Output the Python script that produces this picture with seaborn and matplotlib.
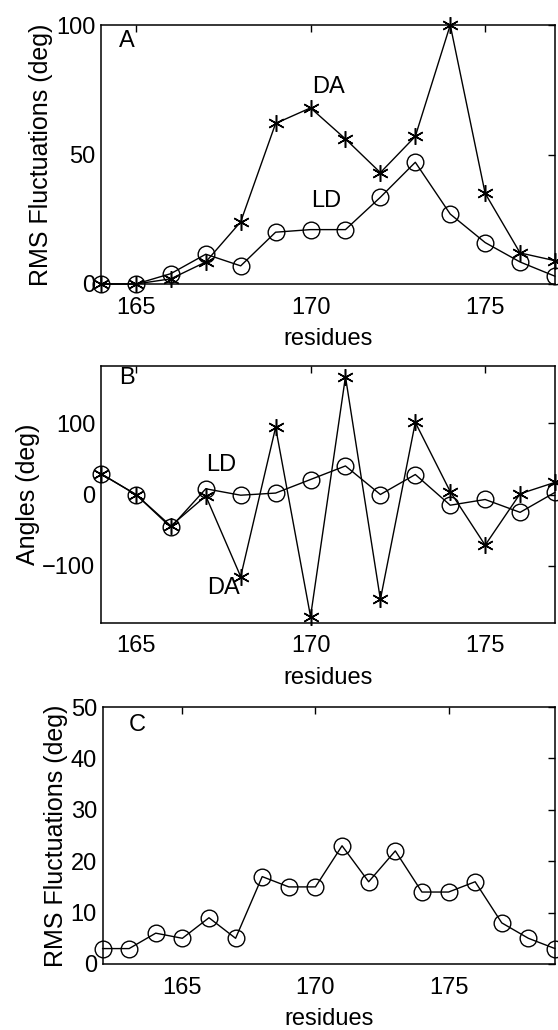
import matplotlib
matplotlib.use("Agg")
import matplotlib.pyplot as plt
import seaborn as sns
import numpy as np

# ---- data ----
res_ab = [164, 165, 166, 167, 168, 169, 170, 171, 172, 173, 174, 175, 176, 177]
rms_da = [0, 0, 2, 8.5, 24, 62, 68, 56, 43, 57, 100, 35, 12, 9]
rms_ld = [0, 0, 4, 11.5, 7, 20, 21, 21, 33.5, 47, 27, 16, 8.5, 3]
ang_da = [29, 0, -44, -2, -115, 94, -171, 165, -147, 101, 4, -71, 1, 17]
ang_ld = [29, 0, -46, 8, -1, 2, 21, 40, 0, 28, -15, -7, -25, 3]
res_c = [162, 163, 164, 165, 166, 167, 168, 169, 170, 171, 172, 173, 174, 175, 176, 177, 178, 179]
rms_c = [3, 3, 6, 5, 9, 5, 17, 15, 15, 23, 16, 22, 14, 14, 16, 8, 5, 3]
xticks = [165, 170, 175]
yticks_a = [0, 50, 100]
yticks_b = [-100, 0, 100]
yticks_c = [0, 10, 20, 30, 40, 50]

sns.set_style("white")
plt.rcParams['font.family'] = ['Liberation Sans', 'DejaVu Sans']
plt.rcParams['text.color'] = 'black'
plt.rcParams['axes.labelcolor'] = 'black'
plt.rcParams['xtick.color'] = 'black'
plt.rcParams['ytick.color'] = 'black'
FS = 17

fig = plt.figure(figsize=(5.58, 10.30), dpi=100)
W = 558.0
H = 1030.0
def box(l, t, r, b):
    return [l / W, 1 - b / H, (r - l) / W, (b - t) / H]

axA = fig.add_axes(box(101, 25, 555, 284))
axB = fig.add_axes(box(101, 366, 555, 623))
axC = fig.add_axes(box(102.5, 707, 555, 964))

star = (6, 2, 0)
lw = 1.0

def asterisk(ax, x, y):
    sns.lineplot(x=x, y=y, ax=ax, color='black', linewidth=lw, marker=star,
                 markersize=12, markeredgewidth=1.1, markeredgecolor='black',
                 clip_on=False, sort=False)

def circles(ax, x, y):
    sns.lineplot(x=x, y=y, ax=ax, color='black', linewidth=lw, marker='o',
                 markersize=12, markeredgewidth=1.0, markerfacecolor='none',
                 markeredgecolor='black', clip_on=False, sort=False)

# Panel A
asterisk(axA, res_ab, rms_da)
circles(axA, res_ab, rms_ld)
axA.set_xlim(164, 177)
axA.set_ylim(0, 100)
axA.set_yticks(yticks_a)
axA.text(164.75, 94, 'A', fontsize=FS, ha='center', va='center')
axA.text(170.5, 76, 'DA', fontsize=FS, ha='center', va='center')
axA.text(170.45, 32, 'LD', fontsize=FS, ha='center', va='center')
axA.set_ylabel('RMS Fluctuations (deg)', fontsize=18, labelpad=2)

# Panel B
asterisk(axB, res_ab, ang_da)
circles(axB, res_ab, ang_ld)
axB.set_xlim(164, 177)
axB.set_ylim(-180, 180)
axB.set_yticks(yticks_b)
axB.text(164.75, 163, 'B', fontsize=FS, ha='center', va='center')
axB.text(167.45, 42, 'LD', fontsize=FS, ha='center', va='center')
axB.text(167.5, -131, 'DA', fontsize=FS, ha='center', va='center')
axB.set_ylabel('Angles (deg)', fontsize=18, labelpad=2)

# Panel C
circles(axC, res_c, rms_c)
axC.set_xlim(162, 179)
axC.set_ylim(0, 50)
axC.set_yticks(yticks_c)
axC.text(163.3, 46.5, 'C', fontsize=FS, ha='center', va='center')
axC.set_ylabel('RMS Fluctuations (deg)', fontsize=18, labelpad=2)

for ax in (axA, axB, axC):
    ax.set_xticks(xticks)
    ax.set_xticklabels([str(t) for t in xticks])
    ax.set_xlabel('residues', fontsize=FS, labelpad=7)
    ax.tick_params(direction='in', length=5, width=1, top=True, right=True,
                   labelsize=FS, colors='black')
    ax.tick_params(axis='x', pad=9)
    ax.tick_params(axis='y', pad=4)
    for s in ax.spines.values():
        s.set_visible(True)
        s.set_linewidth(1.1)
        s.set_color('black')
    ax.set_facecolor('white')

fig.savefig('out.png', dpi=100, facecolor='white')
